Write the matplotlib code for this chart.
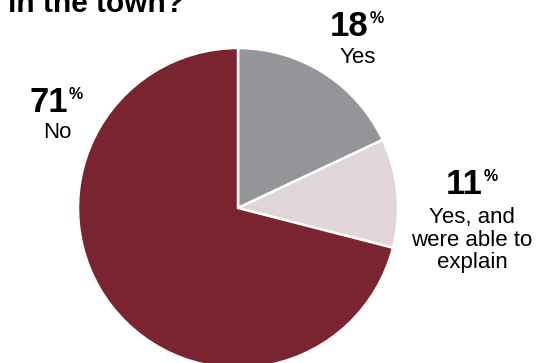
import matplotlib
matplotlib.use("Agg")
import matplotlib.pyplot as plt

# data
labels = ["Yes", "Yes, and\nwere able to\nexplain", "No"]
shares = [18, 11, 71]
colors = ["#939598", "#e2d5d8", "#7a2430"]
title = "in the town?"

# label anchors: (centre x, number baseline y, first text line baseline y), px from top
label_pos = [(358, 36, 63), (472, 194, 223), (57, 112, 138)]

W, H = 541, 363
fig = plt.figure(figsize=(W / 100, H / 100), dpi=100)
ax = fig.add_axes([0, 0, 1, 1])

ax.pie(shares, colors=colors, startangle=90, counterclock=False,
       center=(238, H - 208), radius=160, frame=True,
       wedgeprops=dict(edgecolor="white", linewidth=1.8))
ax.set_xlim(0, W)
ax.set_ylim(0, H)
ax.set_aspect("equal")
ax.axis("off")

ax.text(8, H - 11.5, title, fontsize=21.5, fontweight="bold",
        family="Liberation Sans", ha="left", va="baseline", color="black")

for (cx, nb, tb), lab, val in zip(label_pos, labels, shares):
    ax.text(cx + 11, H - nb, str(val), fontsize=25, fontweight="bold",
            family="Liberation Sans", ha="right", va="baseline")
    ax.text(cx + 12, H - nb + 25, "%", fontsize=11.5, fontweight="bold",
            family="Liberation Sans", ha="left", va="top")
    for i, line in enumerate(lab.split("\n")):
        ax.text(cx, H - tb - 22.5 * i, line, fontsize=16,
                family="Liberation Sans", ha="center", va="baseline")

fig.savefig("out.png", dpi=100)
